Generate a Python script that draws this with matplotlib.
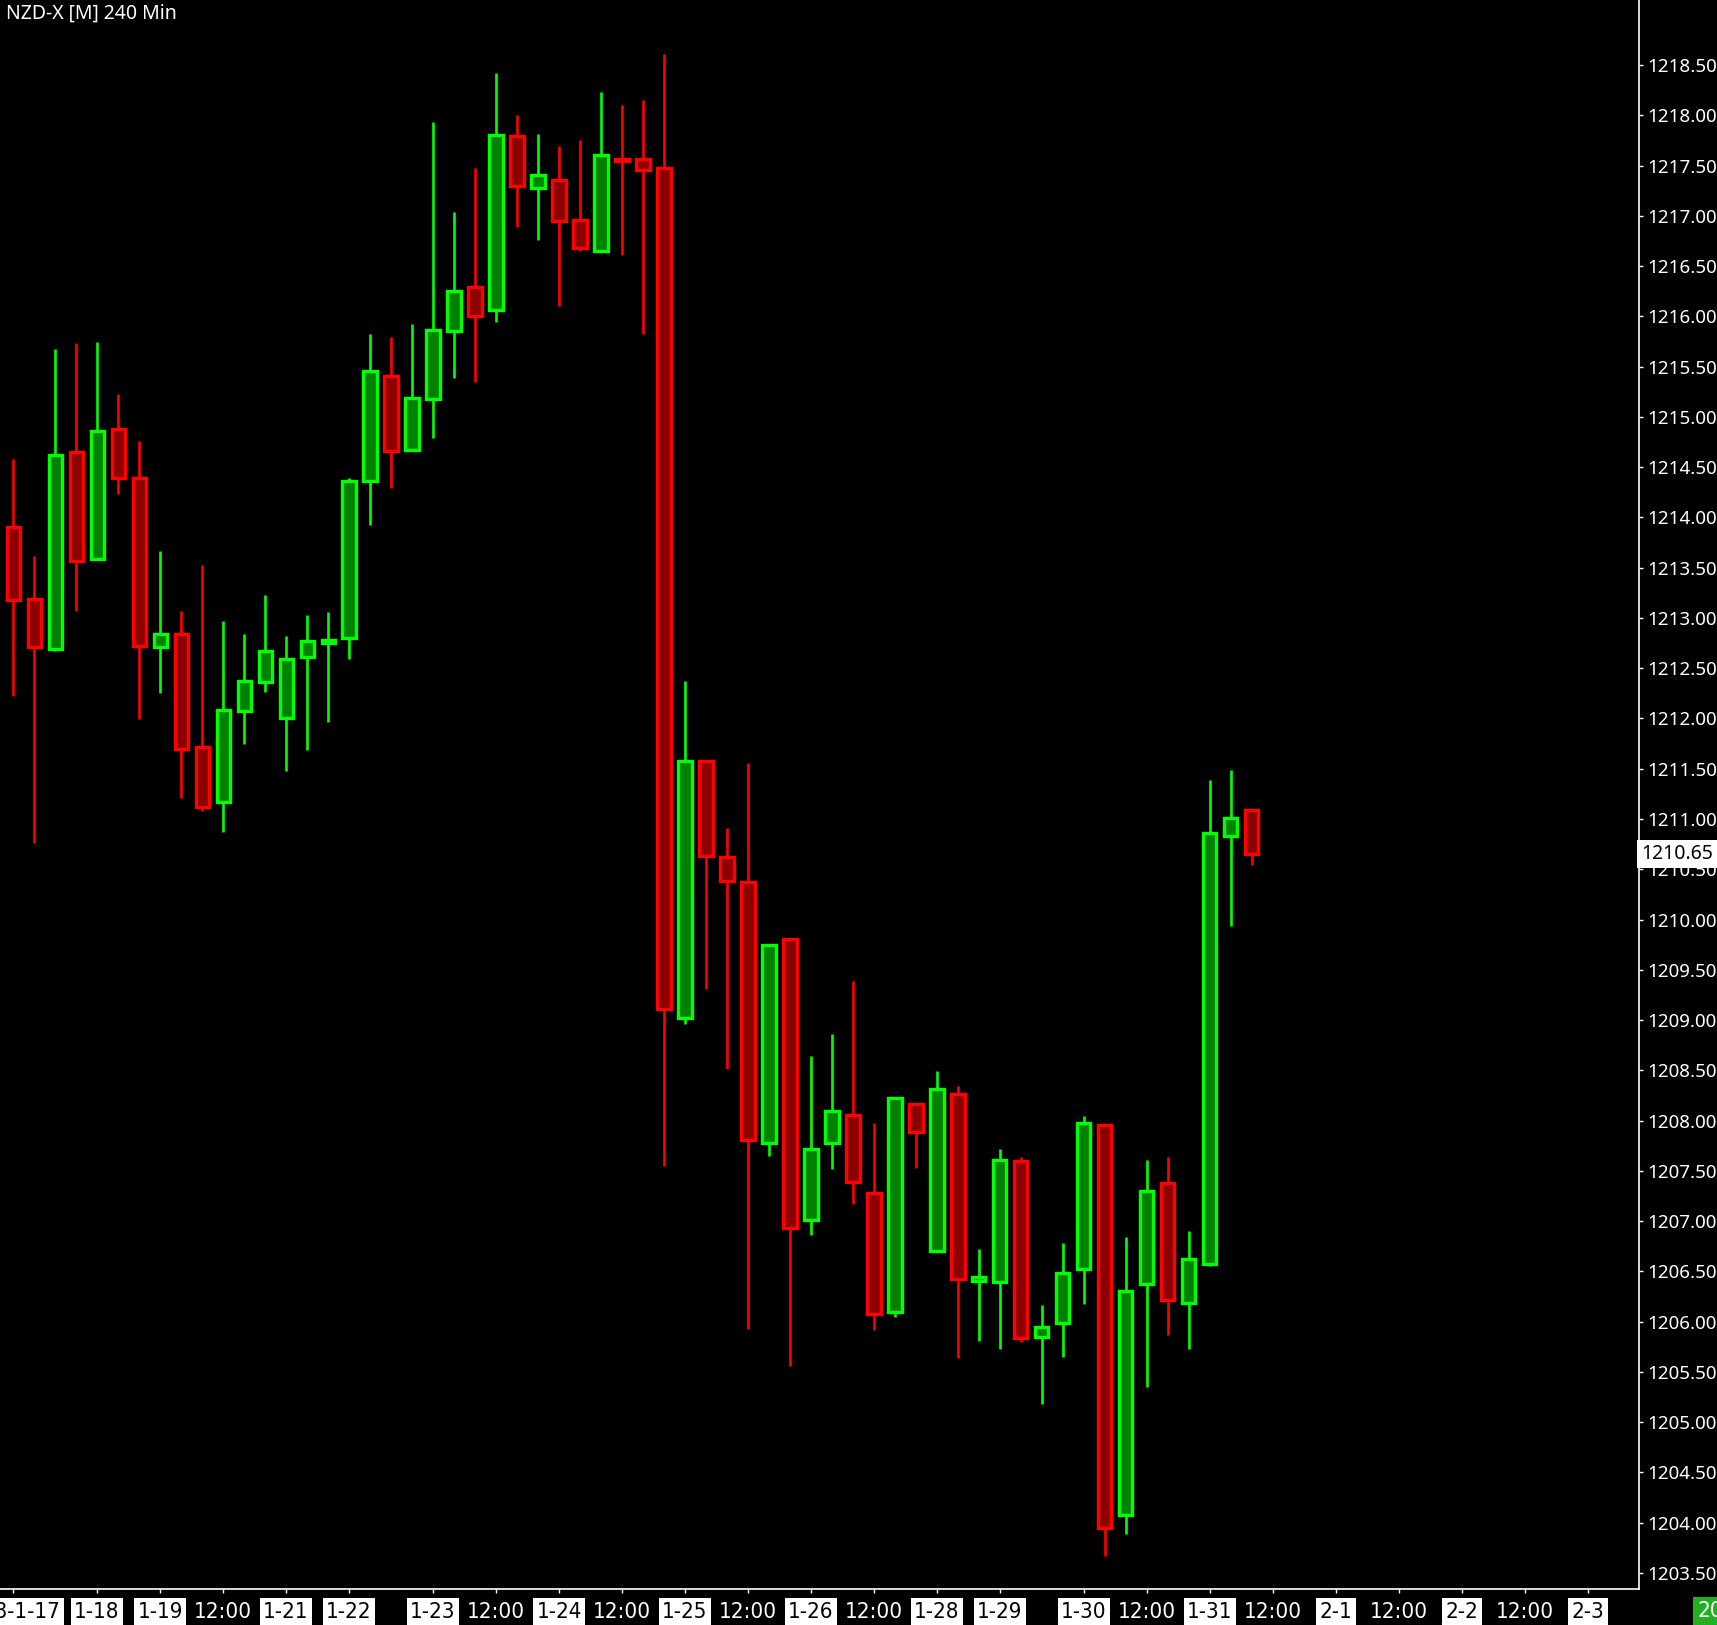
import numpy as np
import matplotlib.pyplot as plt
from matplotlib import font_manager
from matplotlib.transforms import ScaledTranslation

# 240 min candles, NZD-X
opens = [1213.90, 1213.19, 1212.69, 1214.65, 1213.59, 1214.88, 1214.39, 1212.71, 1212.84, 1211.72,
         1211.17, 1212.07, 1212.36, 1212.00, 1212.61, 1212.75, 1212.80, 1214.36, 1215.41, 1214.67,
         1215.18, 1215.85, 1216.29, 1216.06, 1217.79, 1217.28, 1217.36, 1216.96, 1216.65, 1217.57,
         1217.57, 1217.48, 1209.02, 1211.58, 1210.62, 1210.37, 1207.78, 1209.81, 1207.01, 1207.78,
         1208.06, 1207.28, 1206.10, 1208.16, 1206.70, 1208.26, 1206.40, 1206.39, 1207.60, 1205.85,
         1205.99, 1206.52, 1207.96, 1204.08, 1206.37, 1207.38, 1206.19, 1206.57, 1210.83, 1211.09]
highs = [1214.58, 1213.62, 1215.68, 1215.73, 1215.74, 1215.23, 1214.76, 1213.67, 1213.07, 1213.53,
         1212.97, 1212.84, 1213.23, 1212.82, 1213.03, 1213.06, 1214.39, 1215.82, 1215.79, 1215.92,
         1217.93, 1217.04, 1217.48, 1218.42, 1218.00, 1217.81, 1217.69, 1217.75, 1218.23, 1218.10,
         1218.15, 1218.61, 1212.37, 1211.58, 1210.91, 1211.56, 1209.75, 1209.82, 1208.64, 1208.86,
         1209.39, 1207.98, 1208.23, 1208.17, 1208.49, 1208.34, 1206.72, 1207.72, 1207.64, 1206.17,
         1206.78, 1208.05, 1207.97, 1206.84, 1207.61, 1207.64, 1206.90, 1211.39, 1211.49, 1211.10]
lows = [1212.22, 1210.76, 1212.67, 1213.07, 1213.59, 1214.23, 1211.99, 1212.25, 1211.21, 1211.08,
        1210.87, 1211.75, 1212.26, 1211.48, 1211.69, 1211.96, 1212.59, 1213.92, 1214.29, 1214.66,
        1214.79, 1215.39, 1215.35, 1215.94, 1216.89, 1216.76, 1216.10, 1216.65, 1216.65, 1216.61,
        1215.82, 1207.55, 1208.96, 1209.31, 1208.51, 1205.93, 1207.65, 1205.56, 1206.86, 1207.52,
        1207.17, 1205.92, 1206.05, 1207.53, 1206.70, 1205.64, 1205.81, 1205.73, 1205.80, 1205.18,
        1205.65, 1206.18, 1203.67, 1203.89, 1205.35, 1205.87, 1205.73, 1206.55, 1209.94, 1210.54]
closes = [1213.18, 1212.71, 1214.62, 1213.57, 1214.86, 1214.39, 1212.72, 1212.84, 1211.70, 1211.12,
          1212.08, 1212.37, 1212.67, 1212.59, 1212.77, 1212.78, 1214.36, 1215.46, 1214.66, 1215.19,
          1215.86, 1216.25, 1216.00, 1217.80, 1217.30, 1217.41, 1216.95, 1216.68, 1217.61, 1217.55,
          1217.46, 1209.11, 1211.58, 1210.63, 1210.38, 1207.81, 1209.75, 1206.93, 1207.72, 1208.10,
          1207.39, 1206.08, 1208.22, 1207.89, 1208.31, 1206.42, 1206.44, 1207.61, 1205.84, 1205.95,
          1206.48, 1207.98, 1203.95, 1206.30, 1207.30, 1206.21, 1206.62, 1210.86, 1211.01, 1210.65]

# time axis labels (bar index where the label sits)
tick_pos = [0, 4, 7, 10, 13, 16, 20, 23, 26, 29, 32, 35, 38, 41, 44, 47, 51, 54, 57, 60, 63, 66, 69, 72, 75]
tick_labels = ['2018-1-17', '1-18', '1-19', '12:00', '1-21', '1-22', '1-23', '12:00', '1-24', '12:00',
               '1-25', '12:00', '1-26', '12:00', '1-28', '1-29', '1-30', '12:00', '1-31', '12:00',
               '2-1', '12:00', '2-2', '12:00', '2-3']

price_ticks = np.arange(1203.5, 1218.51, 0.5)
last_price = 1210.65
title = 'NZD-X [M] 240 Min'

# narrow font for the time scale if there is one
names = {f.name for f in font_manager.fontManager.ttflist}
narrow = [n for n in ['Liberation Sans Narrow', 'DejaVu Sans Condensed'] if n in names]
has_cond = any(f.name == 'DejaVu Sans' and f.stretch in ('condensed', 'semi-condensed')
               for f in font_manager.fontManager.ttflist)
if narrow:
    time_font = dict(family=narrow[0], size=17)
elif has_cond:
    time_font = dict(family='DejaVu Sans', stretch='condensed', size=16)
else:
    time_font = dict(family='DejaVu Sans', size=14)

W, H = 1717, 1625
fig = plt.figure(figsize=(W / 100, H / 100), dpi=100, facecolor='black')
ax = fig.add_axes([0, 1 - 1589 / H, 1639 / W, 1589 / H])
ax.set_facecolor('black')

o = np.array(opens)
h = np.array(highs)
l = np.array(lows)
c = np.array(closes)
x = np.arange(len(o))
up = c >= o

edge = np.where(up, '#00ff00', '#ff0000')
fill = np.where(up, '#008000', '#8b0000')

# wicks first, then bodies on top
ax.vlines(x, l, h, colors=edge, linewidth=1.9, zorder=2)
ax.bar(x, np.abs(c - o), bottom=np.minimum(o, c), width=0.62,
       color=fill, edgecolor=edge, linewidth=2.4, zorder=3)

ax.set_xlim(-0.62, 77.43)
ax.set_ylim(1203.34, 1219.147)

for side in ['top', 'left']:
    ax.spines[side].set_visible(False)
for side in ['right', 'bottom']:
    ax.spines[side].set_color('white')
    ax.spines[side].set_linewidth(1.2)

ax.yaxis.tick_right()
ax.set_yticks(price_ticks)
ax.set_yticklabels([f'{v:.2f}' for v in price_ticks])
ax.tick_params(axis='y', colors='white', length=3, width=1, pad=3, labelsize=13.5)
for lab in ax.get_yticklabels():
    lab.set_family('Noto Sans')

ax.set_xticks(tick_pos)
ax.set_xticklabels(tick_labels)
ax.tick_params(axis='x', colors='white', length=3, width=1, pad=6)
for i, lab in enumerate(ax.get_xticklabels()):
    lab.set_family(time_font['family'])
    lab.set_fontsize(time_font['size'])
    if 'stretch' in time_font:
        lab.set_fontstretch(time_font['stretch'])
    if lab.get_text() != '12:00':
        lab.set_color('black')
        lab.set_bbox(dict(facecolor='white', edgecolor='none', pad=2.5))
    if i == 0:
        # first date sits partly off the left edge
        lab.set_transform(lab.get_transform() + ScaledTranslation(-0.05, 0, fig.dpi_scale_trans))

# last price marker on the price scale
ax.text(1.0015, last_price, f'{last_price:.2f}', transform=ax.get_yaxis_transform(),
        ha='left', va='center', color='black', fontsize=14, family='Noto Sans',
        bbox=dict(facecolor='white', edgecolor='none', pad=3), zorder=10, clip_on=False)

# current time box, cut by the right edge
t = fig.text(1697 / W, 1 - 1611 / H, '2018-1-31', color='white', fontsize=time_font['size'],
             family=time_font['family'], ha='left', va='center',
             bbox=dict(facecolor='#22b022', edgecolor='none', pad=2.5))
if 'stretch' in time_font:
    t.set_fontstretch(time_font['stretch'])

fig.text(6 / W, 1 - 14 / H, title, color='white', fontsize=14, family='Noto Sans',
         ha='left', va='center')

fig.savefig('out.png', dpi=100, facecolor='black')
